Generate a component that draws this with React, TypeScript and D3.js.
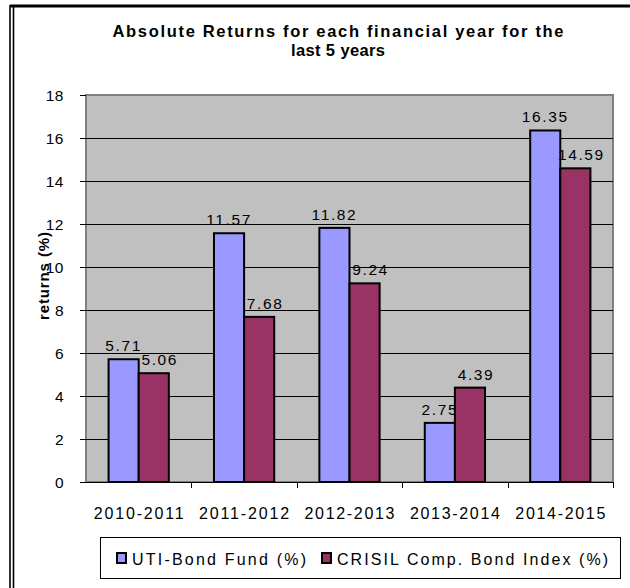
import React from "react";
import * as d3 from "d3";

const categories = ["2010-2011", "2011-2012", "2012-2013", "2013-2014", "2014-2015"];
const seriesNames = ["UTI-Bond Fund (%)", "CRISIL Comp. Bond Index (%)"];
const utiValues = [5.71, 11.57, 11.82, 2.75, 16.35];
const crisilValues = [5.06, 7.68, 9.24, 4.39, 14.59];
const yTicks = [0, 2, 4, 6, 8, 10, 12, 14, 16, 18];
const titleLines = ["Absolute Returns for each financial year for the", "last 5 years"];
const yTitle = "returns (%)";

const colors = ["#9999FF", "#993366"];
const FONT = "'Liberation Sans', Arial, sans-serif";

export default function App() {
  const W = 630, H = 588;
  const plot = { left: 86, right: 613, top: 95, bottom: 482 };
  const x = d3.scaleBand<string>().domain(categories).range([plot.left, plot.right]).padding(0);
  const xs = d3.scaleBand<string>().domain(seriesNames).range([0, x.bandwidth()]).paddingInner(0).paddingOuter(0.75);
  const y = d3.scaleLinear().domain([0, 18]).range([plot.bottom, plot.top]);
  const series = [utiValues, crisilValues];
  const bw = xs.bandwidth();

  return (
    <svg width={W} height={H} style={{ position: "absolute", left: 0, top: 0, background: "#fff" }} fontFamily={FONT}>
      {/* outer border */}
      <line x1={10} y1={6} x2={W} y2={6} stroke="#000" strokeWidth={3} />
      <line x1={10} y1={5} x2={10} y2={H} stroke="#000" strokeWidth={1.6} />
      <line x1={13.5} y1={5} x2={13.5} y2={H} stroke="#000" strokeWidth={1.6} />

      {/* title */}
      {titleLines.map((t, i) => (
        <text key={t} x={338} y={37 + i * 19} textAnchor="middle" fontSize={16.5} fontWeight="bold"
          textLength={i === 0 ? 451 : 94} lengthAdjust="spacing">{t}</text>
      ))}

      {/* plot area */}
      <rect x={plot.left} y={plot.top} width={plot.right - plot.left} height={plot.bottom - plot.top}
        fill="#C0C0C0" stroke="#808080" strokeWidth={2} />

      {/* gridlines */}
      {yTicks.filter(t => t > 0 && t < 18).map(t => (
        <line key={t} x1={plot.left} x2={plot.right} y1={Math.round(y(t)) + 0.5} y2={Math.round(y(t)) + 0.5} stroke="#000" strokeWidth={1} />
      ))}

      {/* y ticks + labels */}
      {yTicks.map(t => (
        <g key={t}>
          <line x1={80} x2={plot.left} y1={Math.round(y(t)) + 0.5} y2={Math.round(y(t)) + 0.5} stroke="#000" strokeWidth={1} />
          <text x={64} y={y(t) + 5.5} textAnchor="end" fontSize={15.5} letterSpacing={0.5}>{t}</text>
        </g>
      ))}

      {/* bars */}
      {categories.map((c, ci) => (
        <g key={c}>
          {series.map((vals, si) => {
            const bx = (x(c) as number) + (xs(seriesNames[si]) as number);
            const by = y(vals[ci]);
            return (
              <g key={si}>
                <rect x={bx} y={by} width={bw} height={plot.bottom - by} fill={colors[si]} stroke="#000" strokeWidth={2} />
                <text x={bx + bw / 2 + (si === 1 ? 6 : 0)} y={by - 8} textAnchor="middle" fontSize={15.5} letterSpacing={1.6}>
                  {vals[ci].toFixed(2)}
                </text>
              </g>
            );
          })}
        </g>
      ))}

      {/* x axis */}
      <line x1={80} x2={plot.right} y1={plot.bottom + 0.5} y2={plot.bottom + 0.5} stroke="#000" strokeWidth={1} />
      {categories.map(c => {
        const xe = (x(c) as number) + x.bandwidth();
        return <line key={"t" + c} x1={Math.round(xe) + 0.5} x2={Math.round(xe) + 0.5} y1={plot.bottom} y2={plot.bottom + 6} stroke="#000" strokeWidth={1} />;
      })}
      {categories.map(c => (
        <text key={"l" + c} x={(x(c) as number) + x.bandwidth() / 2} y={519} textAnchor="middle" fontSize={16}
          textLength={90} lengthAdjust="spacing">{c}</text>
      ))}

      {/* y title */}
      <text transform={`translate(49,276) rotate(-90)`} textAnchor="middle" fontSize={15} fontWeight="bold"
        textLength={88} lengthAdjust="spacing">{yTitle}</text>

      {/* legend */}
      <rect x={100.5} y={537.5} width={520} height={41} fill="#fff" stroke="#000" strokeWidth={1} />
      {seriesNames.map((s, i) => {
        const lx = i === 0 ? 117 : 322;
        return (
          <g key={s}>
            <rect x={lx} y={553} width={9} height={10} fill={colors[i]} stroke="#000" strokeWidth={2} />
            <text x={lx + 15} y={564.5} fontSize={16} textLength={i === 0 ? 174 : 271} lengthAdjust="spacing">{s}</text>
          </g>
        );
      })}
    </svg>
  );
}
